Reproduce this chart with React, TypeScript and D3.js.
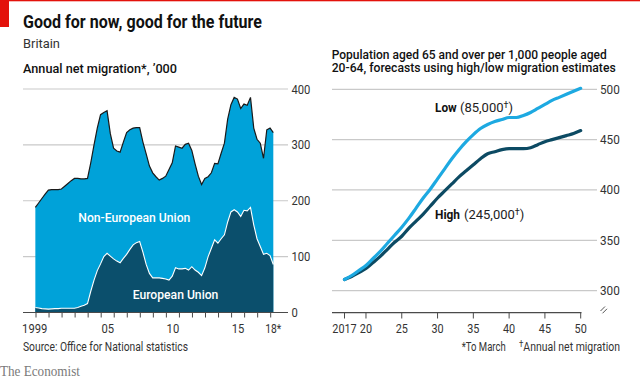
import React from "react";
import * as d3 from "d3";

// ---------- Left chart data: annual net migration, '000 (rolling year, quarterly) ----------
const migStartYear = 1999.95; // first quarter end
const migStep = 0.25;
const totalNet = [
  188, 196, 204, 212, 219, 220, 220, 220, 221, 226, 231, 236, 240, 240, 239, 239,
  240, 268, 300, 330, 354, 358, 361, 320, 294, 289, 287, 305, 322, 327, 330, 331,
  331, 305, 284, 262, 250, 243, 237, 240, 244, 256, 268, 298, 296, 294, 301, 303,
  290, 266, 244, 229, 240, 243, 250, 267, 266, 285, 303, 346, 372, 385, 382, 365,
  373, 371, 385, 330, 310, 303, 276, 327, 330, 322,
];
const euNet = [
  9, 8, 7, 6.5, 6, 6.5, 7, 7, 7.5, 7.5, 7.5, 7.5, 7.5, 9, 11, 13,
  16, 38, 58, 75, 87, 100, 106, 101, 96, 92, 89, 97, 104, 113, 121, 125,
  127, 108, 86, 70, 62, 62, 62, 61, 60, 58, 65, 80, 78, 78, 79, 76,
  82, 76, 72, 66, 80, 100, 115, 130, 124, 132, 139, 162, 180, 184, 180, 172,
  183, 182, 188, 157, 132, 118, 104, 106, 102, 86,
];
const leftYTicks = [0, 100, 200, 300, 400];
const leftXTickYears = d3.range(2000, 2019);
const leftXLabels = ["1999", "05", "10", "15", "18*"];
const leftXLabelYears = [1999.9, 2005.5, 2010.5, 2015.5, 2018.2];

// ---------- Right chart data: population 65+ per 1,000 aged 20-64 ----------
const projYears = d3.range(2017, 2051);
const lowMigration = [
  311, 315, 320, 325, 332, 339, 347, 355, 363, 372, 382, 392, 401, 411, 421, 431, 440,
  448, 455, 461, 465, 468, 470, 472, 472, 474, 477, 481, 485, 489, 492, 495, 498, 501,
];
const highMigration = [
  311, 314, 318, 322, 328, 334, 341, 348, 354, 362, 369, 376, 384, 392, 399, 406, 413,
  419, 425, 431, 436, 438, 440, 441, 441, 441, 442, 445, 448, 450, 452, 454, 456, 459,
];
const rightYTicks = [300, 350, 400, 450, 500];
const rightXTicks = [2017, 2020, 2025, 2030, 2035, 2040, 2045, 2050];
const rightXLabels = ["2017", "20", "25", "30", "35", "40", "45", "50"];

const FONT = "Roboto, 'Noto Sans', sans-serif";
const RED = "#e3120b";
const LIGHT = "#00a2d9";
const DARK = "#0b4f6c";
const LOWC = "#1da9e1";
const HIGHC = "#0c4a63";
const GRID = "#c9c9c9";

function T(props: any) {
  const { w, children, ...rest } = props;
  return (
    <text fontFamily={FONT} textLength={w} lengthAdjust="spacingAndGlyphs" {...rest}>
      {children}
    </text>
  );
}

export default function App() {
  const W = 640;
  const H = 379;

  // left scales
  const lx = d3.scaleLinear().domain([2000, 2018]).range([36, 270.7]);
  const ly = d3.scaleLinear().domain([0, 400]).range([312.5, 89]);
  const migT = totalNet.map((_, i) => migStartYear + i * migStep);

  const areaTotal = d3
    .area<number>()
    .x((_, i) => lx(migT[i]))
    .y0(ly(0))
    .y1((d) => ly(d));
  const lineGen = d3
    .line<number>()
    .x((_, i) => lx(migT[i]))
    .y((d) => ly(d));

  // right scales
  const rx = d3.scaleLinear().domain([2017, 2050]).range([344.5, 580.7]);
  const ry = d3.scaleLinear().domain([300, 500]).range([290.6, 89.3]);
  const projLine = d3
    .line<number>()
    .x((_, i) => rx(projYears[i]))
    .y((d) => ry(d))
    .curve(d3.curveMonotoneX);

  const digitW = 6.3;

  return (
    <svg width={W} height={H} style={{ position: "absolute", left: 0, top: 0, background: "#fff" }}>
      <rect x={0} y={0} width={W} height={H} fill="#fff" />
      {/* header */}
      <rect x={0} y={0} width={W} height={1.3} fill={RED} />
      <rect x={0} y={0} width={9} height={27} fill={RED} />
      <T x={23} y={28} w={239} fontSize={17.5} fontWeight={700} fill="#111">
        Good for now, good for the future
      </T>
      <T x={23} y={48.3} w={37} fontSize={13} fill="#333">
        Britain
      </T>
      <T x={23} y={73} w={154} fontSize={13.5} fontWeight={500} fill="#111">
        Annual net migration*, ’000
      </T>

      {/* ---------- left chart ---------- */}
      {leftYTicks.map((t) =>
        t === 0 ? null : (
          <line key={"lg" + t} x1={23} x2={288} y1={ly(t)} y2={ly(t)} stroke={GRID} strokeWidth={1.2} />
        )
      )}
      <path d={areaTotal(totalNet) || ""} fill={LIGHT} />
      <path d={areaTotal(euNet) || ""} fill={DARK} />
      <path d={lineGen(euNet) || ""} fill="none" stroke="#fff" strokeWidth={1.1} />
      <path d={lineGen(totalNet) || ""} fill="none" stroke="#1a1a1a" strokeWidth={1.2} />
      <line x1={23} x2={288} y1={ly(0)} y2={ly(0)} stroke="#4a4a4a" strokeWidth={1.2} />
      {leftXTickYears.map((y) => (
        <line key={"lt" + y} x1={lx(y)} x2={lx(y)} y1={ly(0)} y2={ly(0) + 5} stroke="#4a4a4a" strokeWidth={1} />
      ))}
      {leftYTicks.map((t) => (
        <T key={"lyl" + t} x={291.5} y={ly(t) + 4.5} w={String(t).length * digitW} fontSize={12.5} fill="#333">
          {t}
        </T>
      ))}
      {leftXLabels.map((l, i) => (
        <T
          key={"lxl" + l}
          x={lx(leftXLabelYears[i])}
          y={333.3}
          w={l === "18*" ? 16 : l.length * digitW}
          textAnchor="middle"
          fontSize={12.5}
          fill="#333"
        >
          {l}
        </T>
      ))}
      <T x={78.3} y={221.7} w={112} fontSize={13} fontWeight={500} fill="#fff">
        Non-European Union
      </T>
      <T x={132.7} y={299} w={85.7} fontSize={13} fontWeight={500} fill="#fff">
        European Union
      </T>
      <T x={23} y={351} w={165} fontSize={12} fill="#333">
        Source: Office for National statistics
      </T>
      <text x={0} y={376} fontFamily="'Liberation Serif', 'DejaVu Serif', serif" fontSize={15} fill="#7a7a7a" textLength={80} lengthAdjust="spacingAndGlyphs">
        The Economist
      </text>

      {/* ---------- right chart ---------- */}
      <text fontFamily={FONT} fontSize={12.5} fontWeight={500} fill="#111">
        <tspan x={331.7} y={58.5} textLength={275} lengthAdjust="spacingAndGlyphs">
          Population aged 65 and over per 1,000 people aged
        </tspan>
        <tspan x={331.7} y={71.9} textLength={284} lengthAdjust="spacingAndGlyphs">
          20-64, forecasts using high/low migration estimates
        </tspan>
      </text>
      {rightYTicks.map((t) => (
        <line key={"rg" + t} x1={332} x2={597} y1={ry(t)} y2={ry(t)} stroke={GRID} strokeWidth={1.2} />
      ))}
      {rightYTicks.map((t) => (
        <T key={"ryl" + t} x={600} y={ry(t) + 4.5} w={3 * 6.6} fontSize={12.5} fill="#333">
          {t}
        </T>
      ))}
      <line x1={332} x2={581.5} y1={312.7} y2={312.7} stroke="#4a4a4a" strokeWidth={1.2} />
      {rightXTicks.map((t) => (
        <line key={"rt" + t} x1={rx(t)} x2={rx(t)} y1={312.7} y2={318.5} stroke="#4a4a4a" strokeWidth={1} />
      ))}
      {rightXLabels.map((l, i) => (
        <T key={"rxl" + l} x={rx(rightXTicks[i])} y={333.3} w={l.length * 6.1} textAnchor="middle" fontSize={12.5} fill="#333">
          {l}
        </T>
      ))}
      {/* axis break */}
      <line x1={600.5} y1={311} x2={605} y2={306.5} stroke="#555" strokeWidth={1} />
      <line x1={602.5} y1={313.3} x2={607} y2={308.8} stroke="#555" strokeWidth={1} />

      <path d={projLine(highMigration) || ""} fill="none" stroke={HIGHC} strokeWidth={3.2} strokeLinecap="round" />
      <path d={projLine(lowMigration) || ""} fill="none" stroke={LOWC} strokeWidth={3.2} strokeLinecap="round" />

      <T x={435} y={112} w={21.7} fontSize={13} fontWeight={700} fill="#111">
        Low
      </T>
      <text x={460} y={112} fontFamily={FONT} fontSize={13} fill="#222">
        (85,000<tspan fontSize={9} dy={-4.5}>†</tspan><tspan dy={4.5}>)</tspan>
      </text>
      <T x={435} y={219.3} w={25} fontSize={13} fontWeight={700} fill="#111">
        High
      </T>
      <text x={464} y={219.3} fontFamily={FONT} fontSize={13} fill="#222">
        (245,000<tspan fontSize={9} dy={-4.5}>†</tspan><tspan dy={4.5}>)</tspan>
      </text>

      <T x={461.7} y={351} w={44} fontSize={12} fill="#333">
        *To March
      </T>
      <text x={519} y={351} fontFamily={FONT} fontSize={12} fill="#333" textLength={101} lengthAdjust="spacingAndGlyphs">
        <tspan fontSize={9} dy={-4}>†</tspan>
        <tspan dy={4}>Annual net migration</tspan>
      </text>
    </svg>
  );
}
